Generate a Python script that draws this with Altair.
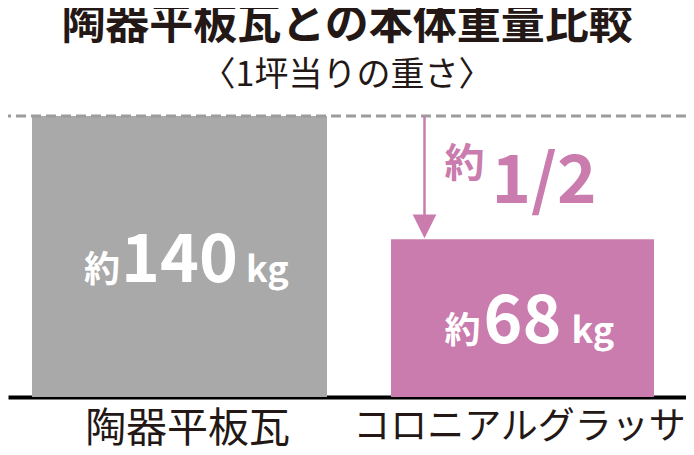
import altair as alt
import pandas as pd

# ---- data ----
categories = ["陶器平板瓦", "コロニアルグラッサ"]
weights = [140, 68]
weight_labels = ["140", "68"]
prefix = "約"
unit = "kg"
ratio_label = "1/2"
title_text = "陶器平板瓦との本体重量比較"
subtitle_text = "〈1坪当りの重さ〉"

# ---- styles ----
GRAY = "#a8a9a8"
PINK = "#c97cad"
INK = "#231815"
DASH = "#9c9c9c"
FONT = "Noto Sans CJK JP"
EXP = 0.8

df = pd.DataFrame({"cat": categories, "w": weights, "lab": weight_labels})
df["mid"] = df["w"] * 0.5 ** (1 / EXP)
ref = pd.DataFrame({"cat": [categories[1]], "top": [weights[0]], "bottom": [weights[1]]})

first = f"datum.value === '{categories[0]}'"
x = alt.X(
    "cat:N",
    sort=categories,
    scale=alt.Scale(domain=categories, paddingInner=0, paddingOuter=0, range=[0, 686]),
    axis=alt.Axis(
        title=None, labelAngle=0, ticks=False, domainColor="#000000", domainWidth=4,
        labelFontSize=alt.condition(first, alt.value(41), alt.value(37)),
        labelOffset=alt.condition(first, alt.value(8), alt.value(-3)),
        labelFont=FONT, labelColor=INK, labelPadding=12, labelLimit=600, grid=False,
    ),
)
yscale = alt.Scale(type="pow", exponent=EXP, domain=[0, weights[0]], nice=False, zero=True)

bars = alt.Chart(df).mark_bar().encode(
    x=x,
    y=alt.Y("w:Q", scale=yscale, axis=None),
    color=alt.Color("cat:N", scale=alt.Scale(domain=categories, range=[GRAY, PINK]), legend=None),
    size=alt.Size("cat:O", scale=alt.Scale(domain=categories, range=[295, 263]), legend=None),
)

dash = alt.Chart(ref).mark_rule(color=DASH, strokeWidth=3, strokeDash=[10, 5]).encode(
    y=alt.Y("top:Q", scale=yscale, axis=None)
)

arrow_line = alt.Chart(ref).mark_rule(color=PINK, strokeWidth=2.5, xOffset=-98, y2Offset=-20).encode(
    x=x, y=alt.Y("top:Q", scale=yscale, axis=None), y2="bottom:Q"
)
arrow_head = alt.Chart(ref).mark_point(
    shape="M-1,-1L1,-1L0,1Z", filled=True, fill=PINK, strokeWidth=0, size=560, opacity=1,
    xOffset=-98, yOffset=-13,
).encode(x=x, y=alt.Y("bottom:Q", scale=yscale, axis=None))

ratio_pre = alt.Chart(ref).mark_text(
    text=prefix, font=FONT, fontWeight="bold", fontSize=40, color=PINK,
    align="left", baseline="alphabetic", dx=-78, dy=61,
).encode(x=x, y=alt.Y("top:Q", scale=yscale, axis=None))
ratio_num = alt.Chart(ref).mark_text(
    text=ratio_label, font=FONT, fontWeight="bold", fontSize=67, color=PINK,
    align="left", baseline="alphabetic", dx=-31, dy=87,
).encode(x=x, y=alt.Y("top:Q", scale=yscale, axis=None))

label_layers = []
for c, lab in zip(categories, weight_labels):
    w = 35 * len(lab)
    base = alt.Chart(df).transform_filter(alt.datum.cat == c)
    enc = dict(x=x, y=alt.Y("mid:Q", scale=yscale, axis=None))
    label_layers.append(base.mark_text(
        text=prefix, font=FONT, fontWeight="bold", fontSize=36, color="white",
        align="right", baseline="alphabetic", dx=-(w / 2 + 7), dy=25).encode(**enc))
    label_layers.append(base.mark_text(
        font=FONT, fontWeight="bold", fontSize=66, color="white",
        align="center", baseline="alphabetic", dy=25).encode(text="lab:N", **enc))
    label_layers.append(base.mark_text(
        text=unit, font=FONT, fontWeight="bold", fontSize=36, color="white",
        align="left", baseline="alphabetic", dx=(w / 2 + 14), dy=25).encode(**enc))

chart = alt.layer(bars, dash, arrow_line, arrow_head, ratio_pre, ratio_num, *label_layers).properties(
    width=678,
    height=281,
    autosize=alt.AutoSizeParams(type="none"),
    padding={"top": 108, "bottom": 50, "left": 0, "right": 0},
    title=alt.TitleParams(
        text=title_text, subtitle=subtitle_text, anchor="middle",
        font=FONT, fontSize=44, fontWeight="bold", color=INK,
        subtitleFont=FONT, subtitleFontSize=34, subtitleFontWeight="normal", subtitleColor=INK,
        subtitlePadding=11, offset=22,
    ),
).configure_view(stroke=None)

chart.save("out.html", embed_options={"renderer": "svg", "actions": False})
